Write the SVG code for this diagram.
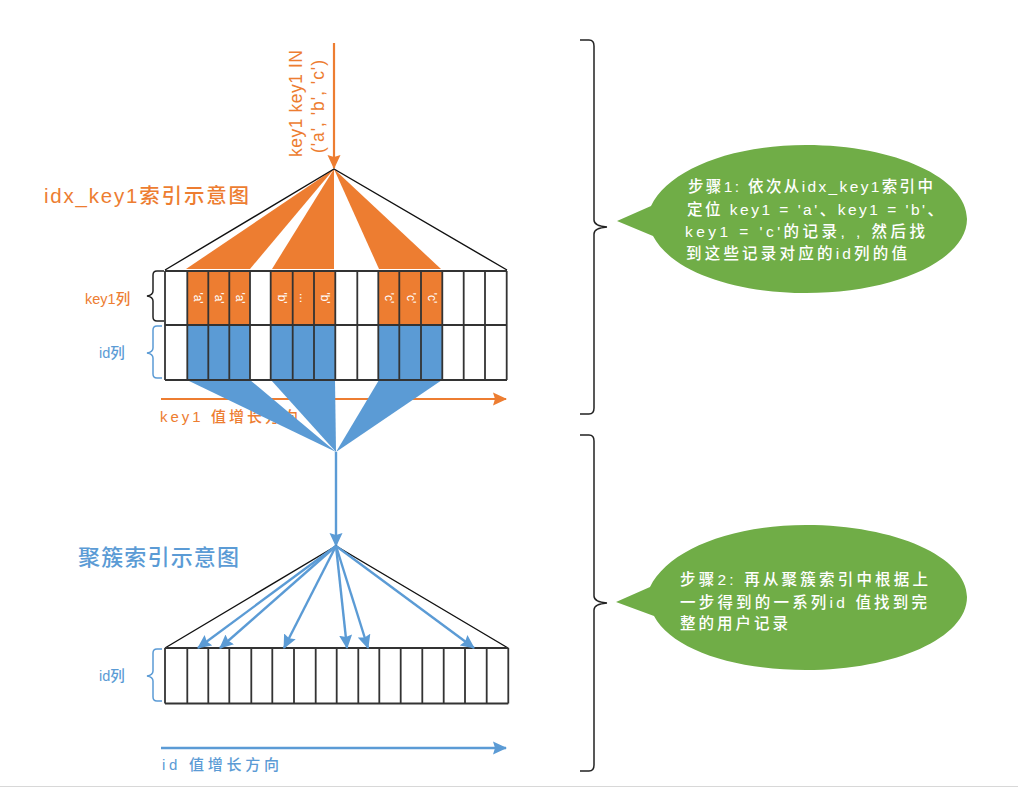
<svg xmlns="http://www.w3.org/2000/svg" width="1018" height="789" viewBox="0 0 1018 789">
<style>
text{font-family:"Liberation Sans","Noto Sans CJK SC",sans-serif}
.o{fill:#ED7D31}.b{fill:#5B9BD5}
.grid{fill:none;stroke:#333;stroke-width:1.8}
.tri{fill:none;stroke:#111;stroke-width:1.4}
.brace{fill:none;stroke:#222;stroke-width:1.5}
.lo{stroke:#ED7D31;stroke-width:2.2;fill:none}
.lb{stroke:#5B9BD5;stroke-width:2.4;fill:none}
.cell{font-size:12px;fill:#fff;text-anchor:middle}
.bub{font-size:15.5px;fill:#fff;font-weight:500}
.bubble{fill:#70AD47}
.lab{font-size:14.5px;font-weight:500}
</style>
<defs>
<marker id="ao" markerUnits="userSpaceOnUse" markerWidth="15" markerHeight="14" refX="13" refY="7" orient="auto"><path d="M0 0.5L14 7L0 13.500L2 7Z" fill="#ED7D31"/></marker>
<marker id="ab" markerUnits="userSpaceOnUse" markerWidth="15" markerHeight="14" refX="13" refY="7" orient="auto"><path d="M0 0.5L14 7L0 13.500L2 7Z" fill="#5B9BD5"/></marker>
</defs>
<rect width="1018" height="789" fill="#fff"/>
<rect y="786" width="1018" height="1" fill="#d8d8d8"/>

<g id="title-idx" class="o"><text x="44" y="203" font-size="20.5" font-weight="500" textLength="205" lengthAdjust="spacing">idx_key1索引示意图</text></g>
<g id="title-cluster" class="b"><text x="78" y="565" font-size="22" font-weight="500" textLength="161" lengthAdjust="spacing">聚簇索引示意图</text></g>

<g id="query-label" class="o">
<text transform="translate(302 157) rotate(-90)" textLength="107" lengthAdjust="spacing" font-size="17.5" font-weight="500">key1 key1 IN</text>
<text transform="translate(324 153) rotate(-90)" textLength="93" lengthAdjust="spacing" font-size="17.5" font-weight="500">('a', 'b', 'c')</text>
</g>

<g id="axis-key1" class="o">
<text x="160" y="422" font-size="15" font-weight="500" textLength="138" lengthAdjust="spacing">key1 值增长方向</text>
</g>

<g id="connectors">
<line class="lo" x1="161" y1="399" x2="506" y2="399" marker-end="url(#ao)"/>
<line class="lo" x1="334" y1="43" x2="334" y2="168" marker-end="url(#ao)"/>
<line class="lb" x1="336" y1="452" x2="336" y2="546" marker-end="url(#ab)"/>
<line class="lb" x1="161" y1="748" x2="506" y2="748" marker-end="url(#ab)"/>
</g>

<g id="index-key1">
<polygon class="o" points="334,169 186,269 250,269"/>
<polygon class="o" points="334,169 272,269 334,269"/>
<polygon class="o" points="334,169 379,269 441,269"/>
<rect class="o" x="187.300" y="271" width="62.700" height="54"/>
<rect class="o" x="270.700" y="271" width="64.600" height="54"/>
<rect class="o" x="378.300" y="271" width="64" height="54"/>
<rect class="b" x="187.300" y="325" width="62.700" height="55"/>
<rect class="b" x="270.700" y="325" width="64.600" height="55"/>
<rect class="b" x="378.300" y="325" width="64" height="55"/>
<polygon class="b" points="187,380 250,380 336,452"/>
<polygon class="b" points="271,380 335,380 336,452"/>
<polygon class="b" points="379,380 442,380 336,452"/>
<polyline class="tri" points="165,270 334,169 507,270"/>
<path class="grid" d="M165 271H507M165 325H507M165 380H507M165 271V380M187.300 271V380M208.300 271V380M229.300 271V380M250 271V380M270.700 271V380M292.700 271V380M314 271V380M335.300 271V380M357.300 271V380M378.300 271V380M399.300 271V380M421 271V380M442.300 271V380M463.700 271V380M485 271V380M506.700 271V380"/>
<text class="cell" transform="translate(194 298) rotate(90)">'a'</text>
<text class="cell" transform="translate(215 298) rotate(90)">'a'</text>
<text class="cell" transform="translate(236 298) rotate(90)">'a'</text>
<text class="cell" transform="translate(277.500 298) rotate(90)">'b'</text>
<text class="cell" transform="translate(299.500 298) rotate(90)">...</text>
<text class="cell" transform="translate(320.500 298) rotate(90)">'b'</text>
<text class="cell" transform="translate(385 298) rotate(90)">'c'</text>
<text class="cell" transform="translate(406.500 298) rotate(90)">'c'</text>
<text class="cell" transform="translate(428 298) rotate(90)">'c'</text>
</g>

<g id="brace-key1">
<path class="brace" d="M164 271H157Q153 271 153 275V291Q153 295 147 296Q153 297 153 301V317Q153 321 157 321H164"/>
<text class="o lab" x="85" y="304">key1列</text>
</g>
<g id="brace-id1">
<path class="brace" style="stroke:#5B9BD5" d="M162 326H157Q153 326 153 330V348Q153 352 147 353Q153 354 153 358V374Q153 378 157 378H162"/>
<text class="b lab" x="99" y="358">id列</text>
</g>

<g id="index-cluster">
<polyline class="tri" points="165,648 336,546 508,648"/>
<path class="grid" d="M165 648H508.300M165 703.500H508.300M165 648V703.500M187.300 648V703.500M208.300 648V703.500M229.300 648V703.500M251.300 648V703.500M272.300 648V703.500M294 648V703.500M315.700 648V703.500M336.700 648V703.500M358.300 648V703.500M379.300 648V703.500M400.700 648V703.500M422.300 648V703.500M443.700 648V703.500M465 648V703.500M486.700 648V703.500M508.300 648V703.500"/>
</g>
<g id="cluster-arrows">
<line class="lb" x1="336" y1="546" x2="198" y2="648" marker-end="url(#ab)"/>
<line class="lb" x1="336" y1="546" x2="220" y2="648" marker-end="url(#ab)"/>
<line class="lb" x1="336" y1="546" x2="284" y2="648" marker-end="url(#ab)"/>
<line class="lb" x1="336" y1="546" x2="347" y2="648" marker-end="url(#ab)"/>
<line class="lb" x1="336" y1="546" x2="368" y2="648" marker-end="url(#ab)"/>
<line class="lb" x1="336" y1="546" x2="474" y2="648" marker-end="url(#ab)"/>
</g>

<g id="brace-id2">
<path class="brace" style="stroke:#5B9BD5" d="M162 649H157Q153 649 153 653V671Q153 675 147 676Q153 677 153 681V697Q153 701 157 701H162"/>
<text class="b lab" x="99" y="681">id列</text>
</g>
<g id="axis-id" class="b">
<text x="162" y="770" font-size="15" font-weight="500" textLength="117" lengthAdjust="spacing">id 值增长方向</text>
</g>

<g id="brace-step1">
<path class="brace" d="M580 40H589Q594 40 594 46V220Q594 226 607 227Q594 228 594 234V408Q594 414 589 414H580"/>
</g>
<g id="brace-step2">
<path class="brace" d="M580 435H589Q594 435 594 441V596Q594 602 607 603Q594 604 594 610V765Q594 771 589 771H580"/>
</g>

<g id="bubble-step1">
<path class="bubble" d="M617 221L651 206C668 170 730 145 806 145C895 145 967 178 967 219C967 260 895 293 806 293C735 293 672 272 653 236Z"/>
<text class="bub" x="688" y="192" textLength="245" lengthAdjust="spacing">步骤1: 依次从idx_key1索引中</text>
<text class="bub" x="687" y="215" textLength="256" lengthAdjust="spacing">定位 key1 = 'a'、key1 = 'b'、</text>
<text class="bub" x="685" y="237" textLength="240" lengthAdjust="spacing">key1 = 'c'的记录, , 然后找</text>
<text class="bub" x="686" y="259" textLength="221" lengthAdjust="spacing">到这些记录对应的id列的值</text>
</g>
<g id="bubble-step2">
<path class="bubble" d="M616 602L650 587C668 550 730 525 806 525C895 525 967 557 967 597C967 638 895 670 806 670C735 670 672 650 654 616Z"/>
<text class="bub" x="680" y="585" textLength="248" lengthAdjust="spacing">步骤2: 再从聚簇索引中根据上</text>
<text class="bub" x="680" y="608" textLength="247" lengthAdjust="spacing">一步得到的一系列id 值找到完</text>
<text class="bub" x="680" y="629" textLength="108" lengthAdjust="spacing">整的用户记录</text>
</g>
</svg>
